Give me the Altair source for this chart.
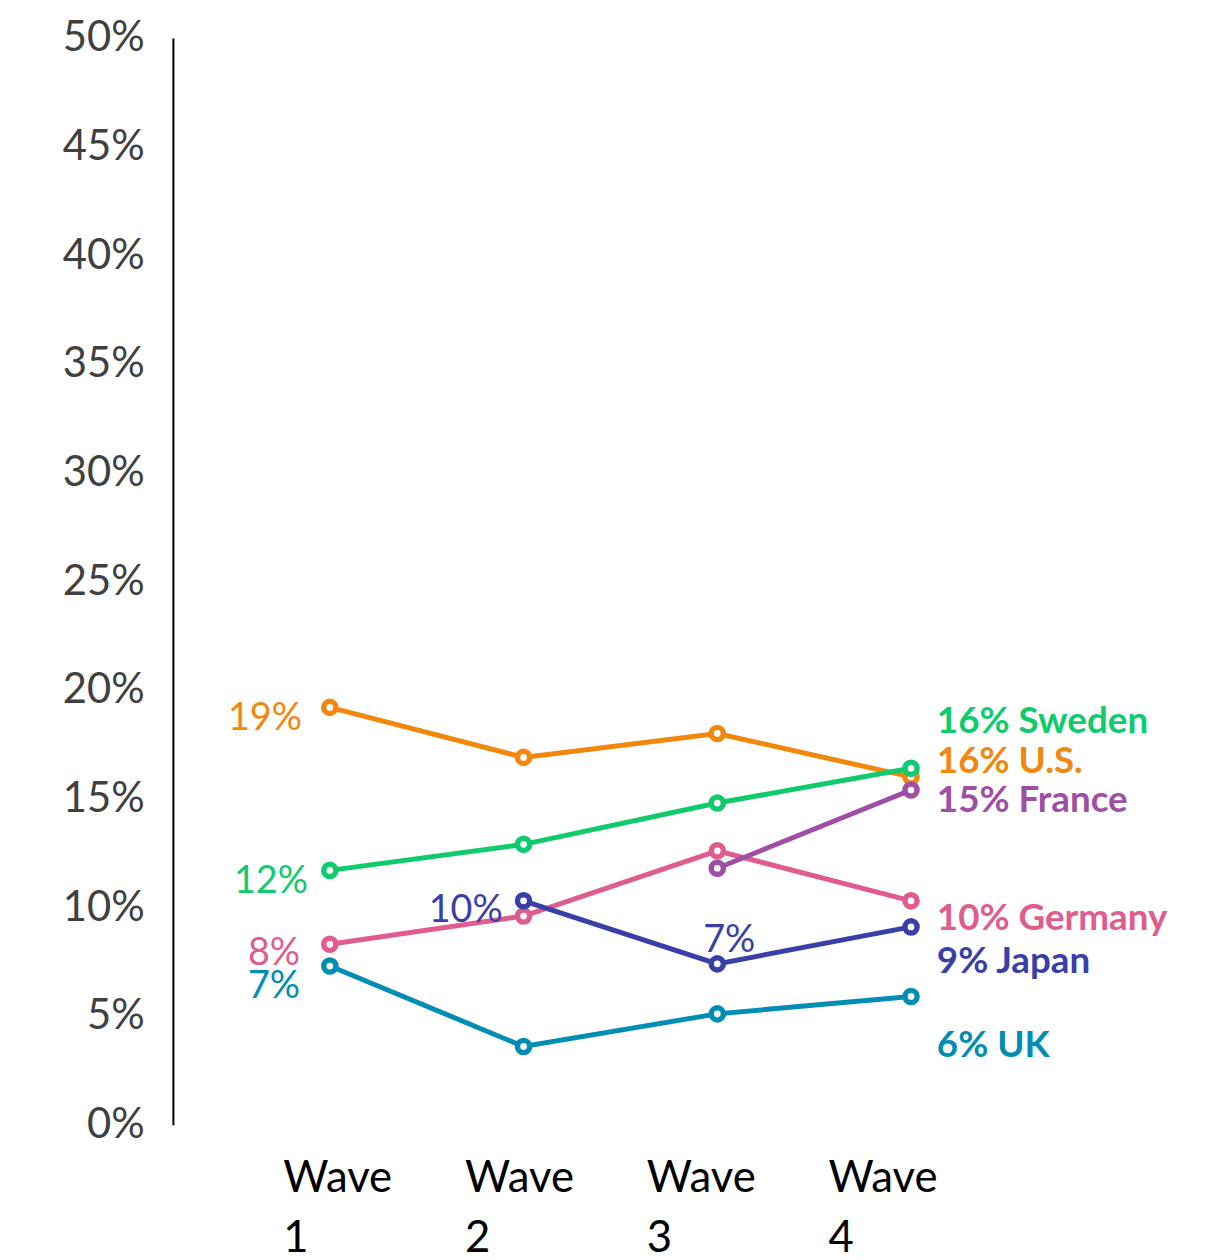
import altair as alt
import pandas as pd

waves = ["Wave 1", "Wave 2", "Wave 3", "Wave 4"]
countries = ["U.S.", "Sweden", "Germany", "France", "Japan", "UK"]
us = [19.2, 16.9, 18.0, 16.0]
sweden = [11.7, 12.9, 14.8, 16.4]
germany = [8.3, 9.6, 12.6, 10.3]
france = [None, None, 11.8, 15.4]
japan = [None, 10.3, 7.4, 9.1]
uk = [7.3, 3.6, 5.1, 5.9]
colors = ["#F2870C", "#0FCB6C", "#E05C8E", "#9E4FA5", "#3A3FA8", "#008DB3"]
end_labels = ["16% U.S.", "16% Sweden", "10% Germany", "15% France", "9% Japan", "6% UK"]

series = dict(zip(countries, [us, sweden, germany, france, japan, uk]))
rows = []
for c, vals in series.items():
    for w, v in zip(waves, vals):
        if v is not None:
            rows.append({"wave": w, "country": c, "value": v})
df = pd.DataFrame(rows)

FONT = "Lato"
x = alt.X("wave:N", sort=waves, title=None,
          scale=alt.Scale(type="point", padding=0.81),
          axis=alt.Axis(domain=False, ticks=False, labelAngle=0,
                        labelExpr="split(datum.label, ' ')",
                        labelAlign="left",
                        labelOffset=alt.ExprRef("-47.5 - 12*indexof(['Wave 1','Wave 2','Wave 3','Wave 4'], datum.value)"),
                        labelBaseline="top",
                        labelPadding=32, labelLineHeight=61,
                        labelFontSize=44, labelColor="#000000", labelFont=FONT))
y = alt.Y("value:Q", title=None,
          scale=alt.Scale(domain=[0, 50], nice=False),
          axis=alt.Axis(values=list(range(0, 51, 5)), labelExpr="datum.value + '%'",
                        grid=False, ticks=False, domainColor="#000000", domainWidth=2,
                        labelFontSize=42, labelColor="#404040", labelFont=FONT,
                        labelPadding=29))
color = alt.Color("country:N", scale=alt.Scale(domain=countries, range=colors), legend=None)

base = alt.Chart(df)
lines = base.mark_line(strokeWidth=5).encode(x=x, y=y, color=color, detail="country:N")
points = base.mark_point(shape="circle", filled=False, fill="white", fillOpacity=1,
                         size=150, strokeWidth=5.5, opacity=1).encode(
    x=x, y=y, color=color)

def lbl(country, wave, text, dx, dy, align="right", bold=False, size=38):
    v = series[country][waves.index(wave)]
    d = pd.DataFrame([{"wave": wave, "value": v, "t": text}])
    col = colors[countries.index(country)]
    return alt.Chart(d).mark_text(align=align, baseline="middle", dx=dx, dy=dy,
                                  fontSize=size, font=FONT, color=col,
                                  fontWeight="bold" if bold else "normal").encode(
        x=x, y=y, text="t:N")

texts = [
    lbl("U.S.", "Wave 1", "19%", -28, 12),
    lbl("Sweden", "Wave 1", "12%", -22, 12),
    lbl("Germany", "Wave 1", "8%", -30, 10),
    lbl("UK", "Wave 1", "7%", -30, 21),
    lbl("Japan", "Wave 2", "10%", -21, 10),
    lbl("Japan", "Wave 3", "7%", 12, -23, align="center"),
]
end_dy = {"Sweden": -46, "U.S.": -15, "France": 11, "Germany": 18, "Japan": 35, "UK": 50}
for c, t in zip(countries, end_labels):
    texts.append(lbl(c, "Wave 4", t, 26, end_dy[c], align="left", bold=True, size=37))

chart = alt.layer(lines, points, *texts).properties(
    width=901, height=1094,
    autosize=alt.AutoSizeParams(type="none"),
    padding={"left": 166, "top": 26, "right": 145, "bottom": 124},
).configure_view(stroke=None)

chart.save("out.html", embed_options={"renderer": "svg", "actions": False})
